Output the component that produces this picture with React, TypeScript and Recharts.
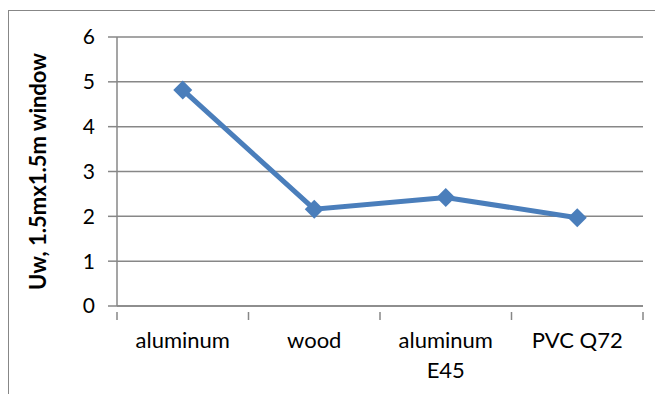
import { LineChart, Line, XAxis, YAxis, CartesianGrid, Text } from "recharts";

const windows = ["aluminum", "wood", "aluminum E45", "PVC Q72"];
const uwValues = [4.82, 2.16, 2.42, 1.97];
const yTicks = [0, 1, 2, 3, 4, 5, 6];

const data = windows.map((name, i) => ({ name, uw: uwValues[i] }));

const FONT = "Lato, 'Liberation Sans', sans-serif";
const GRAY = "#878787";

// category label plus Excel-style tick marks on the band boundaries
function CategoryTick(props: any) {
  const { x, y, payload, width, visibleTicksCount, index } = props;
  const half = width / visibleTicksCount / 2;
  const axisY = y - 20;
  const isLast = index === visibleTicksCount - 1;
  return (
    <g>
      <line x1={x - half} x2={x - half} y1={axisY} y2={axisY + 8} stroke={GRAY} strokeWidth={1.5} />
      {isLast && (
        <line x1={x + half} x2={x + half} y1={axisY} y2={axisY + 8} stroke={GRAY} strokeWidth={1.5} />
      )}
      <Text
        x={x}
        y={y}
        width={100}
        textAnchor="middle"
        verticalAnchor="start"
        lineHeight={30}
        style={{ fontFamily: FONT, fontSize: 22, fill: "#000" }}
      >
        {payload.value}
      </Text>
    </g>
  );
}

function Diamond(props: any) {
  const { cx, cy } = props;
  if (cx == null || cy == null) return null;
  const r = 9.5;
  return (
    <path
      d={`M${cx},${cy - r}L${cx + r},${cy}L${cx},${cy + r}L${cx - r},${cy}Z`}
      fill="#4a7ebb"
    />
  );
}

function AxisTitle(props: any) {
  const { viewBox } = props;
  const cy = viewBox.y + viewBox.height / 2;
  return (
    <text
      x={29}
      y={cy}
      transform={`rotate(-90, 29, ${cy})`}
      textAnchor="middle"
      dominantBaseline="central"
      style={{ fontFamily: FONT, fontSize: 22, fontWeight: 700, fill: "#000" }}
    >
      Uw, 1.5mx1.5m window
    </text>
  );
}

export default function App() {
  return (
    <div style={{ width: 655, height: 386, overflow: "hidden", position: "relative" }}>
      <div
        style={{
          position: "absolute",
          left: 0,
          top: 2,
          width: 700,
          height: 500,
          borderLeft: `1px solid ${GRAY}`,
          borderTop: `1px solid ${GRAY}`,
        }}
      />
      <LineChart
        width={655}
        height={386}
        data={data}
        margin={{ top: 29, right: 20, left: 0, bottom: 0 }}
        style={{ position: "absolute", left: 0, top: 0 }}
      >
        <CartesianGrid vertical={false} stroke={GRAY} strokeWidth={1.5} />
        <XAxis
          dataKey="name"
          scale="band"
          height={88}
          axisLine={{ stroke: GRAY, strokeWidth: 1.5 }}
          tickLine={false}
          tick={<CategoryTick />}
          tickMargin={20}
          interval={0}
        />
        <YAxis
          width={109}
          domain={[0, 6]}
          ticks={yTicks}
          tickSize={9}
          tickMargin={13}
          axisLine={{ stroke: GRAY, strokeWidth: 1.5 }}
          tickLine={{ stroke: GRAY, strokeWidth: 1.5 }}
          tick={{ fontFamily: FONT, fontSize: 21, fill: "#000" }}
          label={<AxisTitle />}
        />
        <Line
          dataKey="uw"
          stroke="#4a7ebb"
          strokeWidth={5}
          dot={<Diamond />}
          activeDot={false}
          isAnimationActive={false}
        />
      </LineChart>
    </div>
  );
}
